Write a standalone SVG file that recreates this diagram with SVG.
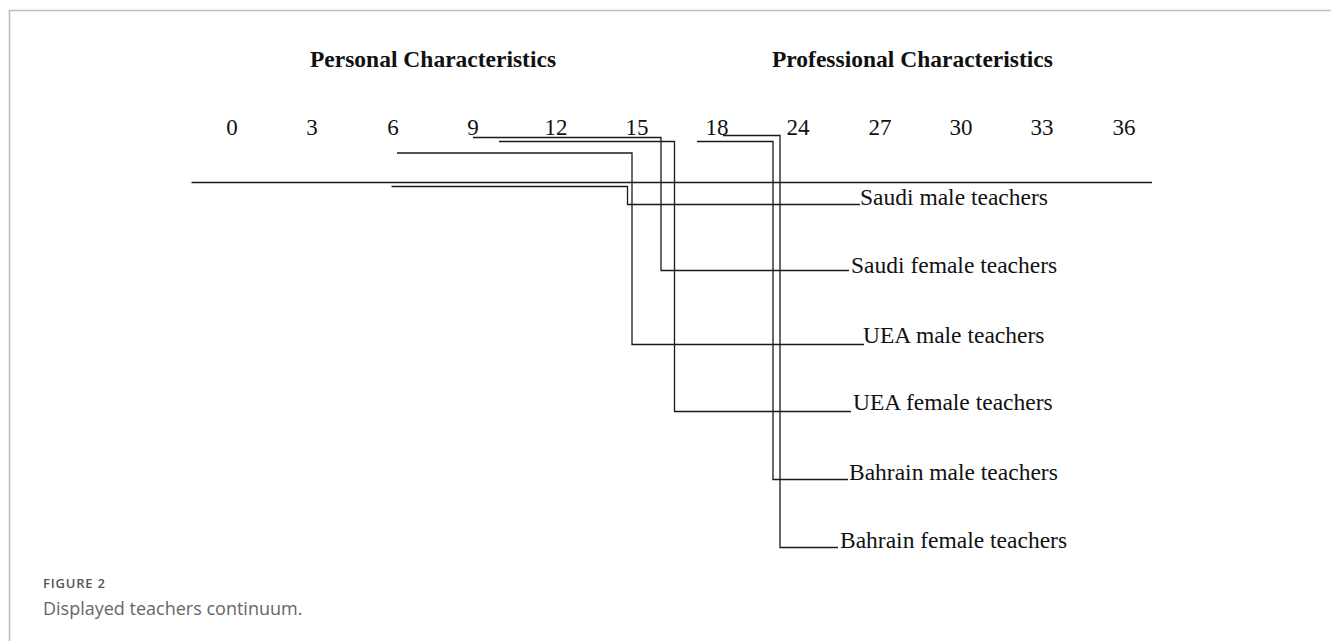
<svg xmlns="http://www.w3.org/2000/svg" width="1331" height="641" viewBox="0 0 1331 641">
<style>
.frame{stroke:#bdbdbd;stroke-width:1.5;fill:none}
.ln{stroke:#1a1a1a;stroke-width:1.3;fill:none}
.num{font-family:"Liberation Serif","Times New Roman",serif;font-size:23px;fill:#111;text-anchor:middle}
.hd{font-family:"Liberation Serif","Times New Roman",serif;font-size:23.5px;font-weight:bold;fill:#111}
.lbl{font-family:"Liberation Serif","Times New Roman",serif;font-size:23.5px;fill:#111}
.figno{font-family:"Open Sans","Liberation Sans",sans-serif;font-size:13px;font-weight:600;letter-spacing:0.8px;fill:#555}
.cap{font-family:"Open Sans","Liberation Sans",sans-serif;font-size:18px;fill:#666}
</style>
<rect width="1331" height="641" fill="#ffffff"/>
<path class="frame" d="M9.5,641 V10.5 H1331"/>
<g id="headings">
<text class="hd" x="310" y="67">Personal Characteristics</text>
<text class="hd" x="772" y="67">Professional Characteristics</text>
</g>
<g id="scale">
<text class="num" x="232" y="135">0</text>
<text class="num" x="312" y="135">3</text>
<text class="num" x="393" y="135">6</text>
<text class="num" x="473" y="135">9</text>
<text class="num" x="556" y="135">12</text>
<text class="num" x="637" y="135">15</text>
<text class="num" x="717" y="135">18</text>
<text class="num" x="798" y="135">24</text>
<text class="num" x="880" y="135">27</text>
<text class="num" x="961" y="135">30</text>
<text class="num" x="1042" y="135">33</text>
<text class="num" x="1124" y="135">36</text>
</g>
<g id="axis">
<line class="ln" x1="191.5" y1="182.5" x2="1152" y2="182.5"/>
</g>
<g id="connectors">
<polyline class="ln" points="391.5,186.5 627.5,186.5 627.5,204.5 860,204.5"/>
<polyline class="ln" points="473,137.5 661,137.5 661,270.5 849,270.5"/>
<polyline class="ln" points="397,153 632,153 632,344.5 864,344.5"/>
<polyline class="ln" points="499,141.5 674.5,141.5 674.5,411.5 851,411.5"/>
<polyline class="ln" points="697,141.5 773,141.5 773,479.5 848,479.5"/>
<polyline class="ln" points="723,135.5 780,135.5 780,547.5 838,547.5"/>
</g>
<g id="node-saudi-male"><text class="lbl" x="860" y="205">Saudi male teachers</text></g>
<g id="node-saudi-female"><text class="lbl" x="851" y="273">Saudi female teachers</text></g>
<g id="node-uea-male"><text class="lbl" x="863" y="343">UEA male teachers</text></g>
<g id="node-uea-female"><text class="lbl" x="853" y="410">UEA female teachers</text></g>
<g id="node-bahrain-male"><text class="lbl" x="849" y="480">Bahrain male teachers</text></g>
<g id="node-bahrain-female"><text class="lbl" x="840" y="548">Bahrain female teachers</text></g>
<g id="caption">
<text class="figno" x="43" y="588">FIGURE 2</text>
<text class="cap" x="43" y="615">Displayed teachers continuum.</text>
</g>
</svg>
